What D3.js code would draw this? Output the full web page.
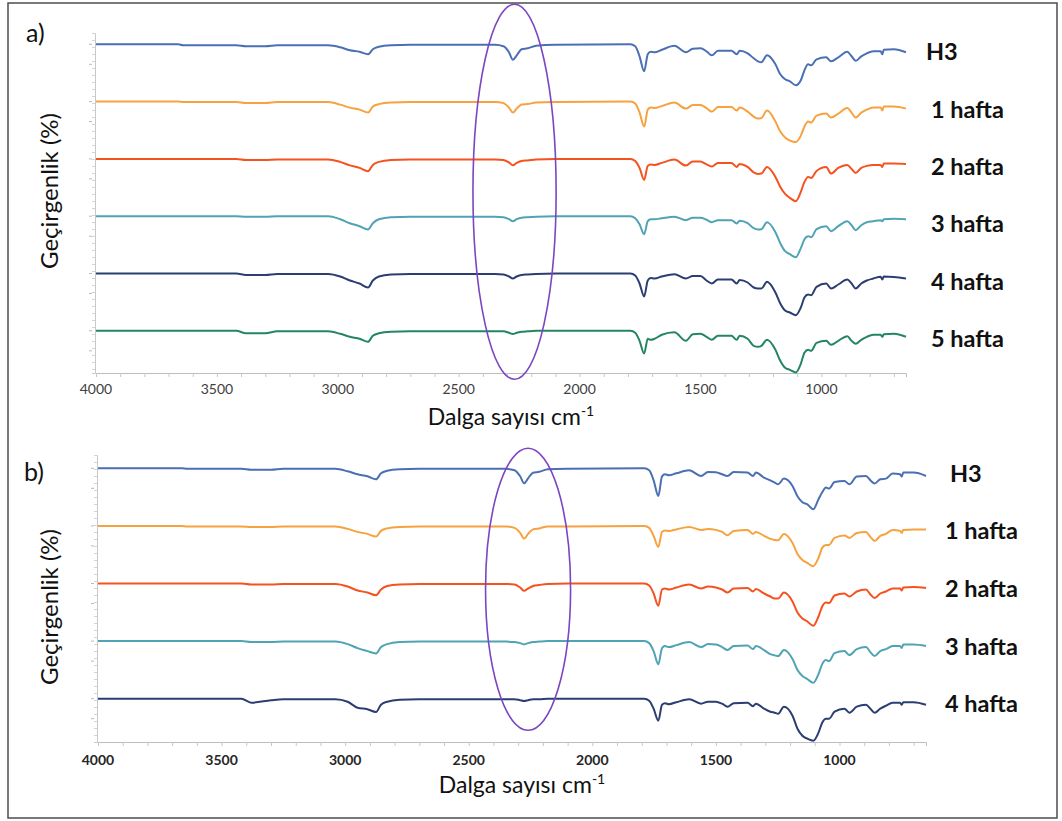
<!DOCTYPE html>
<html lang="tr">
<head>
<meta charset="UTF-8">
<title>FTIR spektrumları</title>
<script src="https://d3js.org/d3.v7.min.js"></script>
<style>
body, html { margin: 0; padding: 0; background: #fff; overflow: hidden; }
svg { display: block; }
text { font-family: Lato, "Open Sans", sans-serif; }
</style>
</head>
<body>
<svg width="1062" height="821"></svg>
<script>
// shared wavenumber grid (cm-1)
const wavenumbers = [4000,3660,3640,3420,3380,3300,3250,3040,
  2990,2950,2910,2875,2855,2830,2780,2700,
  2350,2315,2292,2276,2260,2240,2215,2180,2100,
  1790,1770,1752,1733,1718,1706,1690,1660,1608,1560,
  1532,1500,1475,1453,1428,1372,1350,1338,1305,1280,
  1262,1248,1225,1190,1170,1150,1130,1106,1085,1070,
  1055,1042,1020,980,960,930,893,875,858,835,
  812,785,755,748,742,700,650];

// transmittance drop below each trace's own baseline (%)
// panel a
const aH3 = [0,0,1,1,2,2,1,1, 3,6,7.5,10,5,2.5,1,0.5, 0.5,2,8,15.5,11,5,4,1.5,0.5,
  0,2,12,27,10,7.5,8,5.5,1.5,8, 4.5,4,7,11,6.5,6.5,10,6.5,9,14,
  17,18,11,20,30,35,37,41,36,26, 20,21,15,13,17,13,7.5,12,16.5,12, 9,7,7,10,5.5,5,8];
const a1 = [0,0,0.5,0.5,1.5,1.5,0.5,0.5, 3,6,8,11,5,2.5,1,0.5, 0.5,1.5,6,11,7,3,2.5,1,0.5,
  0,2,11,25,8,6,6.5,4.5,1,7, 3.5,3.5,6.5,10,5.5,5.5,9,6,10,15,
  17,16.5,9,20,30,36,39,40.5,34,25, 20,21,14,12,16,12,6.5,11,16,11, 8,6,6,9,5,5,7];
const a2 = [0,0,0,0,1,1,0.5,0.5, 3,6.5,9,12.3,6,3,1,0.5, 0.5,1,3.5,6.3,4,2,1.5,0.5,0,
  0,2,9,21,7,5.5,6,4,0.7,6.7, 2.5,2.5,5.5,7.5,4,4,8,5,8,13.5,
  15,14.7,8,18,28,35,39,42.3,33,23, 18,19,12,8,14.7,9,6,10,14,9, 7,6,6,8,4.5,4.5,5];
const a3 = [0,0,0,0,0.5,0.5,0,0, 3,7,10,13.3,7,3,1,0.5, 0.5,1,3,5,3,1.5,1,0.5,0,
  0,2,8,18,5,3,3,2,0.5,4, 1.5,1.5,3.5,6,4,4,7.3,4.5,7,12,
  13.3,13,6,16,27,35,38,41,32,23, 20,21,13,10,15,10,5,9,14,9, 6,5,4,5,3,2.5,3];
const a4 = [0,0,0,0,1.5,1.5,0.5,0.5, 3,7,10,14,7,3,1,0.5, 0.5,1,3,5,3,1.5,1,0.5,0,
  0,2,10,23,7,4.5,5,3,0.7,5, 2.5,2.5,7,10,6,6,10,6.5,9,14,
  15,15,8.3,19,30,37,39,41.7,34,24, 21,21.7,13.3,10,15,11,6,10,15,10, 7,5,3.3,6,3,3.5,5];
const a5 = [0,0,0,0,2.5,2.5,0.5,0.5, 3,6,8,11,5,2.5,1,0.5, 0.5,0.5,2,3.3,2,1,0.5,0,0,
  0,2,10,22.7,8,9,8,4,1.5,10, 3.5,3,6,9,5,5,9,5,8,15,
  16,15,9,19,30,37,39,41.7,33,22, 19,20,12,10,14,10,5.5,10,13,9, 6,4,4,6,3.5,3,6];

// panel b
const bH3 = [0,0,0.5,0.5,1.5,1.5,0.5,0.5, 3,6,8,11,5,2.5,1,0.5, 0.5,2,8,15,10,4.4,3.5,1,0.5,
  0,2,12,27.7,8,6,7,5,2,7.7, 3.7,4,6,7.7,3.7,4.3,7.7,4.3,9.3,12,
  14.3,16,10.3,17.7,28,34,36,41,31,24, 19.3,20.3,13.7,12.7,16,8.3,7.7,12,15.3,11, 10.3,5.3,6,8.3,4.3,4.3,7.7];
const b1 = [0,0,0.5,0.5,1,1,0.5,0.5, 3,6,8,10.7,5,2.5,1,0.5, 0.5,2,7,12.7,8,3.5,2.5,0.5,0.5,
  0,2,10,21,6,4.5,5,3.5,1,4, 3,4,6,9.3,5,4,8,6,10,13,
  14,14.3,8,17,28,34,37,40.3,32,22, 19,19,12,9.5,12,7,6,11,15,10, 8,4,5,7,4,3.5,3.7];
const b2 = [0,0,0,0,1,1,0.5,0.5, 3,7,9,11.7,6,2.5,1,0.5, 0.5,1,4,7.3,5,2.5,1.5,0.5,0,
  0,2,10,22.3,6,5,6,4,1,5, 3,4,6,9,5,4.5,8,5.5,10,13,
  15,15,9,18,29,35,38,42.3,33,23, 19,19.5,12,10,13,8,6,11,14.5,10, 8,5,5,7,4,3.5,4.5];
const b3 = [0,0,0,0,1,1,0.5,0.5, 3,7,10,12.3,6,3,1,0.5, 0.5,1,2,3.3,2,1,0.5,0,0,
  0,2,10,23.3,7,5,6,4,1,6, 3,3.5,6,9,5,4.5,8,5,9,13,
  14.3,15,9,18,29,35,38,41.7,33,23, 19,20,12,10,14,8,6,11,15,10, 8,5,5,7,3.5,3.5,5];
const b4 = [0,0,0,0,4,1.5,0.5,0.5, 3,9,10.5,13.3,6,3,1,0.5, 0.5,0.5,1.5,2.3,1.5,0.5,0.5,0,0,
  0,2,10,22,6,4.5,5.5,3.5,0.5,5, 3,3,5,8,4.5,4,7.5,5,10,13,
  14,15,8,17,30,37,40,42,34,24, 20,20,13,10,14,8,6,10,14,10, 7,4,4,6,3.5,3.5,6];

const labelsA = ["H3", "1 hafta", "2 hafta", "3 hafta", "4 hafta", "5 hafta"];
const labelsB = ["H3", "1 hafta", "2 hafta", "3 hafta", "4 hafta"];
const colors = ["#4a6fb3", "#f7a23f", "#f5521f", "#4fa3b4", "#2b3e72", "#238660"];
const xTickLabels = [4000, 3500, 3000, 2500, 2000, 1500, 1000];

// highlighted band (cm-1) and its vertical extent (% units)
const bandA = { center: 2269, half: 172, top: 40, bottom: -335 };
const bandB = { center: 2260, half: 172, top: 20, bottom: -262 };

const svg = d3.select("svg");

svg.append("rect")
  .attr("x", 8).attr("y", 3).attr("width", 1049).attr("height", 815)
  .attr("fill", "none").attr("stroke", "#4d4d4d").attr("stroke-width", 1.5);

function drawPanel(opt) {
  const g = svg.append("g");
  const x = d3.scaleLinear().domain([4000, 650]).range([opt.left, opt.right]);
  const y = d3.scaleLinear().domain(opt.yDomain).range([opt.bottom, opt.top]);

  // y axis: light minor ticks plus blue marks at each trace baseline
  const yAxis = g.append("g").attr("transform", `translate(${opt.left - 1},0)`)
    .call(d3.axisLeft(y).tickValues(d3.range(opt.yDomain[1], opt.yDomain[0], -7)).tickSize(3).tickFormat(""));
  yAxis.select(".domain").attr("stroke", "#c8c8c8");
  yAxis.selectAll(".tick line").attr("stroke", "#d4d4d4");
  g.append("g").selectAll("line")
    .data(opt.series.flatMap((s, i) => [-i * opt.step, -i * opt.step - 20]))
    .join("line")
    .attr("x1", opt.left - 7).attr("x2", opt.left - 4)
    .attr("y1", d => y(d)).attr("y2", d => y(d))
    .attr("stroke", "#9cc0e0");

  // x axis
  const xAxis = g.append("g").attr("transform", `translate(0,${opt.bottom})`)
    .call(d3.axisBottom(x).tickValues(d3.range(4000, 649, -100)).tickSize(4).tickFormat(""));
  xAxis.select(".domain").attr("stroke", "#bdbdbd");
  xAxis.selectAll(".tick line").attr("stroke", "#c8c8c8");
  g.append("g").selectAll("text")
    .data(xTickLabels)
    .join("text")
    .attr("x", d => x(d)).attr("y", opt.bottom + opt.tickLabelDy)
    .attr("text-anchor", "middle")
    .attr("font-size", 14)
    .attr("font-weight", opt.boldTicks ? "bold" : "normal")
    .attr("fill", opt.boldTicks ? "#262626" : "#404040")
    .text(d => d);

  // traces
  const line = d3.line().curve(d3.curveMonotoneX);
  g.append("g").selectAll("path")
    .data(opt.series)
    .join("path")
    .attr("fill", "none")
    .attr("stroke", (d, i) => colors[i])
    .attr("stroke-width", 2)
    .attr("stroke-linejoin", "round")
    .attr("d", (d, i) => line(d.map((v, j) => [x(wavenumbers[j]), y(-v - i * opt.step)])));

  // trace labels
  g.append("g").selectAll("text")
    .data(opt.series)
    .join("text")
    .attr("x", (d, i) => x(650) + opt.labelDx[i === 0 ? 0 : 1])
    .attr("y", (d, i) => y(-i * opt.step) + opt.labelDy)
    .attr("dominant-baseline", "central")
    .attr("font-size", 23.5)
    .attr("font-weight", "bold")
    .attr("fill", "#111")
    .text((d, i) => opt.labels[i]);

  // band highlight
  g.append("ellipse")
    .attr("cx", x(opt.band.center))
    .attr("cy", (y(opt.band.top) + y(opt.band.bottom)) / 2)
    .attr("rx", Math.abs(x(opt.band.center) - x(opt.band.center + opt.band.half)))
    .attr("ry", (y(opt.band.bottom) - y(opt.band.top)) / 2)
    .attr("fill", "none")
    .attr("stroke", "#7c45c2")
    .attr("stroke-width", 1.6);

  // titles
  g.append("text")
    .attr("x", opt.panelLabelX).attr("y", opt.panelLabelY)
    .attr("font-size", 25).attr("fill", "#111")
    .text(opt.panelLabel);

  const xt = g.append("text")
    .attr("x", opt.xTitleX).attr("y", opt.xTitleY)
    .attr("text-anchor", "middle")
    .attr("font-size", 23).attr("fill", "#111");
  xt.append("tspan").text("Dalga sayısı cm");
  xt.append("tspan").attr("font-size", 14).attr("dy", -9).text("-1");

  g.append("text")
    .attr("transform", `translate(${opt.yTitleX},${opt.yTitleY}) rotate(-90)`)
    .attr("text-anchor", "middle")
    .attr("font-size", 24).attr("fill", "#111")
    .text("Geçirgenlik (%)");
}

drawPanel({
  series: [aH3, a1, a2, a3, a4, a5], labels: labelsA, band: bandA,
  left: 96, right: 906, top: 33, bottom: 373,
  yDomain: [-328.7, 11.3], step: 57.3,
  tickLabelDy: 21, boldTicks: false, labelDx: [20, 25], labelDy: 7,
  panelLabel: "a)", panelLabelX: 26, panelLabelY: 42,
  xTitleX: 511, xTitleY: 425, yTitleX: 58, yTitleY: 191
});

drawPanel({
  series: [bH3, b1, b2, b3, b4], labels: labelsB, band: bandB,
  left: 98, right: 926, top: 455, bottom: 742,
  yDomain: [-273.7, 13.3], step: 57.6,
  tickLabelDy: 23, boldTicks: true, labelDx: [24, 19], labelDy: 4.5,
  panelLabel: "b)", panelLabelX: 24, panelLabelY: 481,
  xTitleX: 522, xTitleY: 793, yTitleX: 58, yTitleY: 607
});
</script>
</body>
</html>
